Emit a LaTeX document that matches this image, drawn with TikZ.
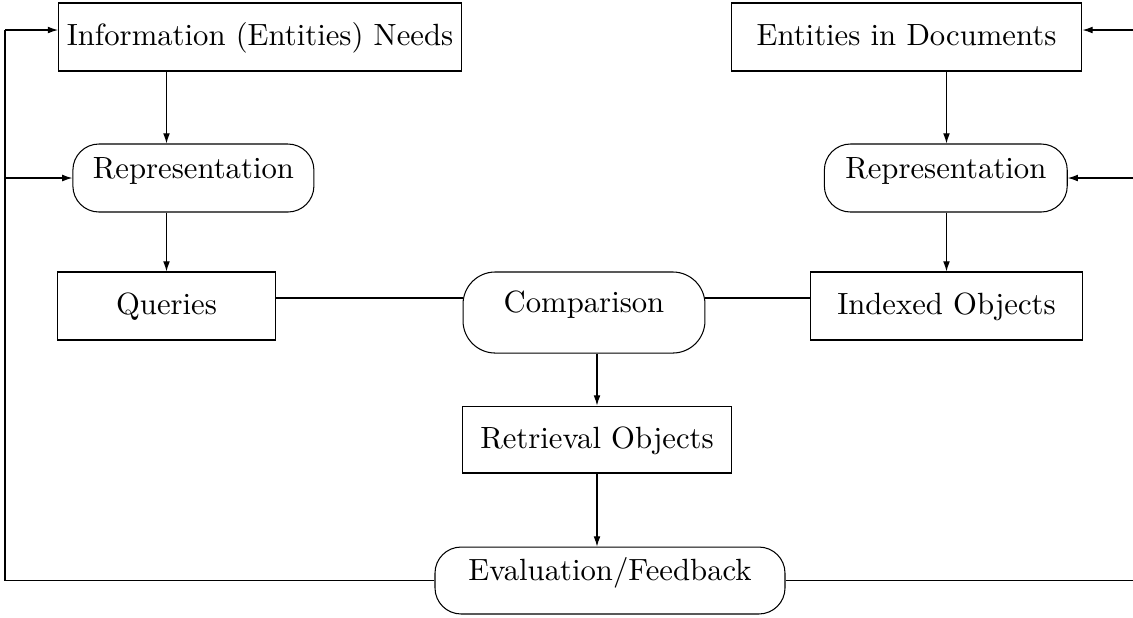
\documentclass[tikz,border=0pt]{standalone}
\usetikzlibrary{arrows.meta,calc}
\begin{document}
\begin{tikzpicture}[x=0.3257pt,y=-0.3257pt,line width=0.34pt,
  box/.style={draw, rectangle, text height=7.8pt, text depth=2pt, inner xsep=2.7pt, minimum height=22.15pt},
  rnd/.style={draw, rectangle, rounded corners=8.5pt, text height=7.5pt, text depth=7.5pt, inner ysep=3.3pt, minimum height=22.15pt},
  arr/.style={-{Latex[length=3.3pt,width=2.2pt]}}]
\useasboundingbox (0,0) rectangle (1133,617);
\node[box] (info) at (260,37) {Information (Entities) Needs};
\node[box, minimum width=114.3pt] (ent) at (906.5,37) {Entities in Documents};
\node[rnd, minimum width=78.5pt] (rep1) at (193.4,178) {Representation};
\node[rnd, minimum width=79.1pt] (rep2) at (945.8,178) {Representation};
\node[box, minimum width=70.7pt] (qry) at (166.5,306) {Queries};
\node[box, minimum width=88.3pt] (idx) at (946.5,306) {Indexed Objects};
\node[rnd, rounded corners=10.5pt, minimum width=78.8pt, minimum height=26.4pt] (cmp) at (584,312.5) {Comparison};
\node[box, minimum width=87.9pt, minimum height=21.8pt] (ret) at (597,439.5) {Retrieval Objects};
\node[rnd, minimum width=114pt, minimum height=21.8pt] (evl) at (610,580.5) {Evaluation/Feedback};

\draw[arr] (info.south -| qry.north) -- (rep1.north -| qry.north);
\draw[arr] (rep1.south -| qry.north) -- (qry.north);
\draw[arr] (ent.south -| idx.north) -- (rep2.north -| idx.north);
\draw[arr] (rep2.south -| idx.north) -- (idx.north);
\draw[arr] (cmp.south -| ret.north) -- (ret.north);
\draw[arr] (ret.south) -- (ret.south |- evl.north);

\coordinate (cl) at ($(cmp.west)+(0.6,-14.5)$);
\coordinate (cr) at ($(cmp.east)+(-0.6,-14.5)$);
\draw (qry.east |- cl) -- (cl);
\draw (cr) -- (idx.west |- cr);

\coordinate (fl) at (5,30);
\coordinate (fr) at (1135,30);
\draw (evl.west) -| (fl);
\draw[arr] (fl) -- (info.west |- fl);
\draw[arr] (fl |- rep1.west) -- (rep1.west);
\draw (evl.east) -| (fr);
\draw[arr] (fr) -- (ent.east |- fr);
\draw[arr] (fr |- rep2.east) -- (rep2.east);
\end{tikzpicture}
\end{document}
